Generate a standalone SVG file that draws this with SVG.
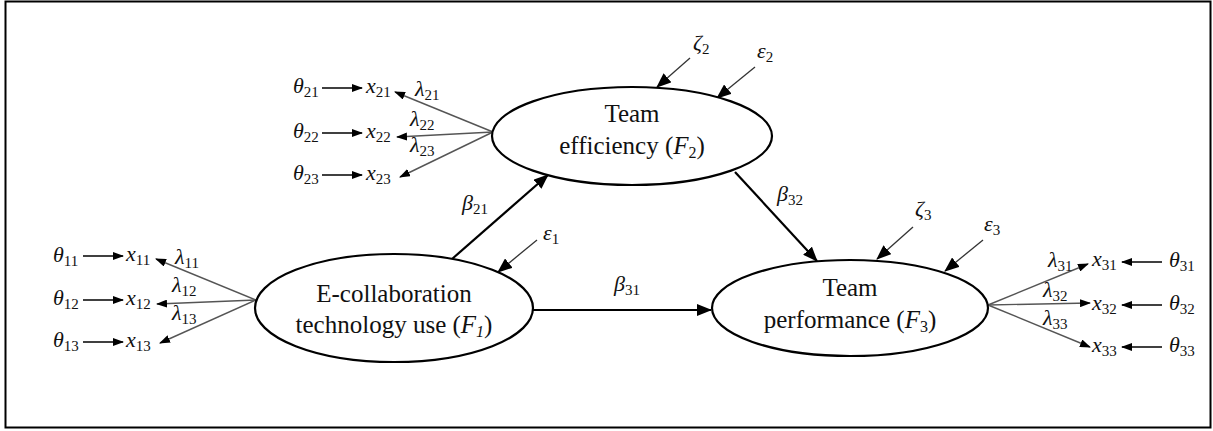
<svg xmlns="http://www.w3.org/2000/svg" width="1213" height="431" viewBox="0 0 1213 431">
<style>
.t{font-family:'Liberation Serif','DejaVu Serif',serif;font-size:25px;fill:#111;text-anchor:middle}
.m{font-family:'Liberation Serif','DejaVu Serif',serif;font-size:22px;font-style:italic;fill:#111}
.s{font-size:15px;font-style:normal}
.node{fill:#fff;stroke:#000;stroke-width:2.2}
.big{stroke:#000;stroke-width:2.2;fill:none}
.thin{stroke:#000;stroke-width:1.3;fill:none}
.load{stroke:#555;stroke-width:1.4;fill:none}
.err{stroke:#333;stroke-width:1.3;fill:none}
</style>
<defs>
<marker id="ab" markerUnits="userSpaceOnUse" markerWidth="16" markerHeight="12" refX="14" refY="6" orient="auto"><path d="M0,0 L15,6 L0,12 Z" fill="#000"/></marker>
<marker id="as" markerUnits="userSpaceOnUse" markerWidth="11" markerHeight="8" refX="10" refY="4" orient="auto"><path d="M0,0 L11,4 L0,8 Z" fill="#000"/></marker>
</defs>
<rect x="5.5" y="1.5" width="1205" height="426" fill="#fff" stroke="#000" stroke-width="2"/>

<g id="connectors">
<line class="big" x1="452" y1="259" x2="548" y2="175" marker-end="url(#ab)"/>
<line class="big" x1="533" y1="310" x2="711" y2="310" marker-end="url(#ab)"/>
<line class="big" x1="735" y1="172" x2="817" y2="261" marker-end="url(#ab)"/>
<line class="err" x1="537" y1="240" x2="498" y2="272" marker-end="url(#ab)"/>
<line class="err" x1="690" y1="58" x2="657" y2="87" marker-end="url(#ab)"/>
<line class="err" x1="755" y1="67" x2="717" y2="98" marker-end="url(#ab)"/>
<line class="err" x1="913" y1="227" x2="877" y2="259" marker-end="url(#ab)"/>
<line class="err" x1="983" y1="240" x2="945" y2="271" marker-end="url(#ab)"/>
<line class="load" x1="256" y1="300" x2="156" y2="259" marker-end="url(#as)"/>
<line class="load" x1="256" y1="300" x2="157" y2="304" marker-end="url(#as)"/>
<line class="load" x1="256" y1="300" x2="160" y2="343" marker-end="url(#as)"/>
<line class="load" x1="493" y1="132" x2="395" y2="92" marker-end="url(#as)"/>
<line class="load" x1="493" y1="132" x2="397" y2="137" marker-end="url(#as)"/>
<line class="load" x1="493" y1="132" x2="400" y2="177" marker-end="url(#as)"/>
<line class="load" x1="988" y1="305" x2="1088" y2="264" marker-end="url(#as)"/>
<line class="load" x1="988" y1="305" x2="1090" y2="303" marker-end="url(#as)"/>
<line class="load" x1="988" y1="305" x2="1090" y2="347" marker-end="url(#as)"/>
<line class="thin" x1="83" y1="256" x2="123" y2="256" marker-end="url(#as)"/>
<line class="thin" x1="83" y1="300" x2="123" y2="300" marker-end="url(#as)"/>
<line class="thin" x1="83" y1="342" x2="123" y2="342" marker-end="url(#as)"/>
<line class="thin" x1="322" y1="88" x2="362" y2="88" marker-end="url(#as)"/>
<line class="thin" x1="322" y1="133" x2="362" y2="133" marker-end="url(#as)"/>
<line class="thin" x1="322" y1="175" x2="362" y2="175" marker-end="url(#as)"/>
<line class="thin" x1="1162" y1="262" x2="1122" y2="262" marker-end="url(#as)"/>
<line class="thin" x1="1162" y1="305" x2="1122" y2="305" marker-end="url(#as)"/>
<line class="thin" x1="1162" y1="347" x2="1122" y2="347" marker-end="url(#as)"/>
</g>

<g id="F1">
<ellipse class="node" cx="394" cy="308" rx="139" ry="54"/>
<text class="t" x="394" y="302">E-collaboration</text>
<text class="t" x="394" y="333">technology use (<tspan font-style="italic">F</tspan><tspan font-style="italic" font-size="16" dy="4">1</tspan><tspan dy="-4">)</tspan></text>
</g>
<g id="F2">
<ellipse class="node" cx="632" cy="136" rx="140" ry="49"/>
<text class="t" x="632" y="122">Team</text>
<text class="t" x="632" y="154">efficiency (<tspan font-style="italic">F</tspan><tspan font-size="16" dy="4">2</tspan><tspan dy="-4">)</tspan></text>
</g>
<g id="F3">
<ellipse class="node" cx="850" cy="308" rx="138" ry="48"/>
<text class="t" x="850" y="296">Team</text>
<text class="t" x="850" y="328">performance (<tspan font-style="italic">F</tspan><tspan font-size="16" dy="4">3</tspan><tspan dy="-4">)</tspan></text>
</g>

<g id="labels">
<text class="m" x="53" y="262">θ<tspan class="s" dy="4">11</tspan></text>
<text class="m" x="53" y="305">θ<tspan class="s" dy="4">12</tspan></text>
<text class="m" x="53" y="347">θ<tspan class="s" dy="4">13</tspan></text>
<text class="m" x="126" y="261">x<tspan class="s" dy="4">11</tspan></text>
<text class="m" x="126" y="305">x<tspan class="s" dy="4">12</tspan></text>
<text class="m" x="126" y="347">x<tspan class="s" dy="4">13</tspan></text>
<text class="m" x="175" y="264">λ<tspan class="s" dy="4">11</tspan></text>
<text class="m" x="172" y="292">λ<tspan class="s" dy="4">12</tspan></text>
<text class="m" x="172" y="320">λ<tspan class="s" dy="4">13</tspan></text>

<text class="m" x="293" y="93">θ<tspan class="s" dy="4">21</tspan></text>
<text class="m" x="293" y="138">θ<tspan class="s" dy="4">22</tspan></text>
<text class="m" x="293" y="180">θ<tspan class="s" dy="4">23</tspan></text>
<text class="m" x="366" y="93">x<tspan class="s" dy="4">21</tspan></text>
<text class="m" x="366" y="138">x<tspan class="s" dy="4">22</tspan></text>
<text class="m" x="366" y="180">x<tspan class="s" dy="4">23</tspan></text>
<text class="m" x="415" y="96">λ<tspan class="s" dy="4">21</tspan></text>
<text class="m" x="410" y="126">λ<tspan class="s" dy="4">22</tspan></text>
<text class="m" x="410" y="152">λ<tspan class="s" dy="4">23</tspan></text>

<text class="m" x="1048" y="267">λ<tspan class="s" dy="4">31</tspan></text>
<text class="m" x="1043" y="297">λ<tspan class="s" dy="4">32</tspan></text>
<text class="m" x="1043" y="325">λ<tspan class="s" dy="4">33</tspan></text>
<text class="m" x="1092" y="266">x<tspan class="s" dy="4">31</tspan></text>
<text class="m" x="1092" y="310">x<tspan class="s" dy="4">32</tspan></text>
<text class="m" x="1092" y="352">x<tspan class="s" dy="4">33</tspan></text>
<text class="m" x="1169" y="267">θ<tspan class="s" dy="4">31</tspan></text>
<text class="m" x="1169" y="310">θ<tspan class="s" dy="4">32</tspan></text>
<text class="m" x="1169" y="352">θ<tspan class="s" dy="4">33</tspan></text>

<text class="m" x="462" y="210">β<tspan class="s" dy="4">21</tspan></text>
<text class="m" x="614" y="291">β<tspan class="s" dy="4">31</tspan></text>
<text class="m" x="777" y="201">β<tspan class="s" dy="4">32</tspan></text>
<text class="m" x="543" y="240">ε<tspan class="s" dy="4">1</tspan></text>
<text class="m" x="757" y="58">ε<tspan class="s" dy="4">2</tspan></text>
<text class="m" x="984" y="231">ε<tspan class="s" dy="4">3</tspan></text>
<text class="m" x="693" y="50">ζ<tspan class="s" dy="4">2</tspan></text>
<text class="m" x="915" y="216">ζ<tspan class="s" dy="4">3</tspan></text>
</g>
</svg>
